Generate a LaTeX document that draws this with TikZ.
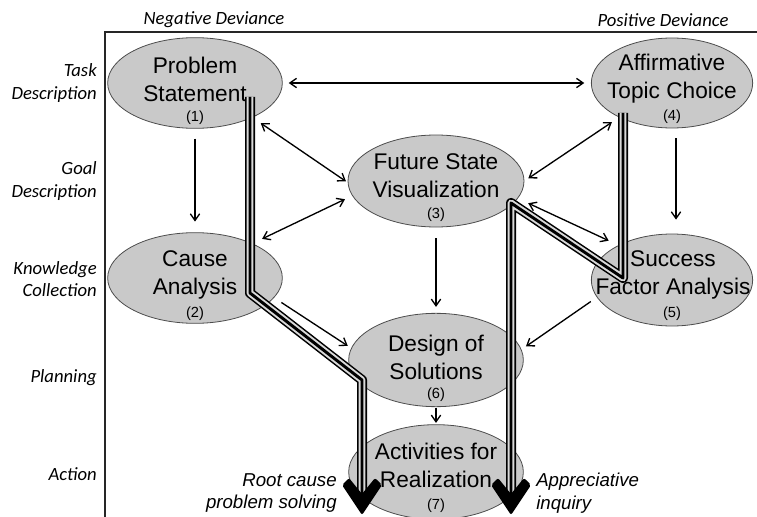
\documentclass[tikz,border=0pt]{standalone}
\usepackage{fontspec}
\setmainfont{Liberation Sans}
\newfontfamily\rowfont{Carlito}
\usetikzlibrary{shapes.geometric,arrows.meta}
\definecolor{phasefill}{gray}{0.79}
\definecolor{phaseline}{gray}{0.3}
\definecolor{railgap}{gray}{0.85}
\tikzset{
  phase/.style={ellipse, draw=phaseline, fill=phasefill, line width=0.6pt,
    inner sep=0pt, minimum width=131pt, minimum height=68pt},
  phasetext/.style={align=center, inner sep=0pt, font=\fontsize{17}{21}\selectfont},
  phasenum/.style={inner sep=0pt, font=\fontsize{11}{12}\selectfont},
  rowlabel/.style={align=right, anchor=east, inner sep=0pt,
    font=\rowfont\itshape\fontsize{14}{17}\selectfont},
  collabel/.style={inner sep=0pt, font=\rowfont\itshape\fontsize{14}{17}\selectfont},
  pathlabel/.style={inner sep=0pt, font=\itshape\fontsize{14}{17}\selectfont},
  link/.style={line width=1pt, >={Straight Barb[length=5pt,width=7pt]}},
  railout/.style={line width=7.5pt, line join=round, black},
  railmid/.style={line width=5.2pt, line join=round, railgap},
  railin/.style={line width=2.2pt, line join=round, black},
}
\newcommand{\railpath}[1]{\draw[railout] #1; \draw[railmid] #1; \draw[railin] #1;}
\newcommand{\railtip}[1]{\fill[shift={(#1)}, rounded corners=1.5pt] (0,0) -- (-20,-30) -- (-13,-37)
  -- (0,-21) -- (13,-37) -- (20,-30) -- cycle;}
\begin{document}
\begin{tikzpicture}[x=0.75pt, y=-0.75pt]
  \useasboundingbox (0,0) rectangle (757,517);
  \draw[line width=0.8pt, black!85] (105,517) -- (105,32) -- (757,32);

  % column and row headings
  \node[collabel] (neg) at (214,20) {Negative Deviance};
  \node[collabel] (pos) at (663,20) {Positive Deviance};
  \node[rowlabel] (task) at (97,83) {Task\\Description};
  \node[rowlabel] (goal) at (97,181) {Goal\\Description};
  \node[rowlabel] (know) at (97,279) {Knowledge\\Collection};
  \node[rowlabel] (plan) at (97,378) {Planning};
  \node[rowlabel] (act) at (97,474) {Action};

  % phases
  \node[phase] (ps) at (195,83) {};
  \node[phase] (ca) at (195,278) {};
  \node[phase, minimum width=132pt, minimum height=69pt] (fsv) at (436,181) {};
  \node[phase, minimum width=121pt, minimum height=67.5pt] (atc) at (672,83) {};
  \node[phase, minimum width=121pt, minimum height=69pt] (sfa) at (672,280) {};
  \node[phase, minimum height=70pt] (dos) at (436,360) {};
  \node[phase, minimum height=71pt] (afr) at (436,472) {};

  \node[phasetext] (psT) at (195,79) {Problem\\Statement};
  \node[phasenum] (psN) at (195,118) {(1)};
  \node[phasetext] (caT) at (195,275) {Cause\\Analysis};
  \node[phasenum] (caN) at (195,314) {(2)};
  \node[phasetext] (fsvT) at (436,176) {Future State\\Visualization};
  \node[phasenum] (fsvN) at (436,215) {(3)};
  \node[phasetext] (atcT) at (672,79) {Affirmative\\Topic Choice};
  \node[phasenum] (atcN) at (672,117) {(4)};
  \node[phasetext] (sfaT) at (673,275) {Success\\Factor Analysis};
  \node[phasenum] (sfaN) at (672,314) {(5)};
  \node[phasetext] (dosT) at (436,357) {Design of\\Solutions};
  \node[phasenum] (dosN) at (436,395) {(6)};
  \node[phasetext] (afrT) at (436,465) {Activities for\\Realization};
  \node[phasenum] (afrN) at (436,506) {(7)};

  % thin arrows
  \begin{scope}[link]
    \path[<->, shorten <=4.5pt, shorten >=5pt] (ps.east) edge (atc.west);
    \path[->, shorten <=7.5pt, shorten >=8pt] (ps.south) edge (ca.north);
    \path[->, shorten <=7.5pt, shorten >=10.5pt] ([xshift=3pt]atc.south) edge ([xshift=3pt]sfa.north);
    \path[<->, shorten <=7.5pt, shorten >=1.5pt] (ps.-31) edge (fsv.181);
    \path[<->, shorten <=8pt, shorten >=6pt] (ca.31) edge (fsv.190);
    \path[<->, shorten <=6.5pt, shorten >=3.5pt] (atc.213) edge (fsv.0);
    \path[<->, shorten <=8.5pt, shorten >=8pt] (fsv.348) edge (sfa.147);
    \path[->, shorten <=8pt, shorten >=4.5pt] (fsv.south) edge (dos.north);
    \path[->, shorten <=6.5pt, shorten >=3pt] (ca.-14) edge (dos.172);
    \path[->, shorten <=5.5pt, shorten >=4pt] (sfa.193) edge (dos.7.5);
    \path[->, shorten <=0.5pt, shorten >=1pt] (dos.south) edge (afr.north);
  \end{scope}

  % two solution paths
  \coordinate (rA1) at (250,97);
  \coordinate (rA2) at (250,293);
  \coordinate (rA3) at (362,380);
  \coordinate (rA4) at (362,497);
  \coordinate (rAtip) at (362,515);
  \coordinate (rB1) at (623,113);
  \coordinate (rB2) at (623,278);
  \coordinate (rB3) at (511,203);
  \coordinate (rB4) at (511,497);
  \coordinate (rBtip) at (511,515);
  \railpath{(rA1) -- (rA2) -- (rA3) -- (rA4)}
  \railpath{(rB1) -- (rB2) -- (rB3) -- (rB4)}
  \railtip{rAtip}
  \railtip{rBtip}

  \node[pathlabel, align=right, anchor=east] (root) at (337,493) {Root cause\\problem solving};
  \node[pathlabel, align=left, anchor=west] (appr) at (536,493) {Appreciative\\inquiry};
\end{tikzpicture}
\end{document}
